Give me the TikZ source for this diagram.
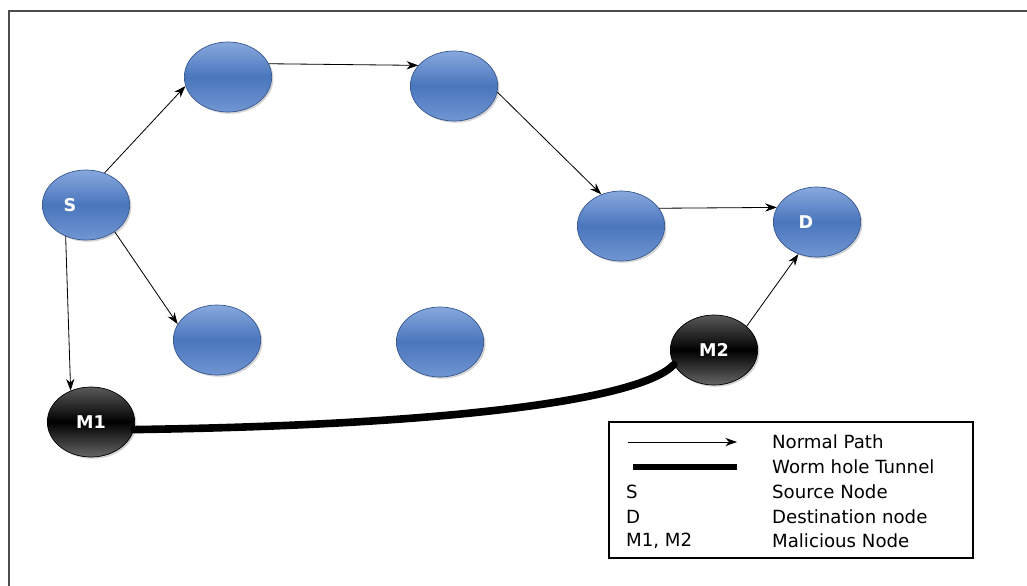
\documentclass[tikz,border=0pt]{standalone}
\usepackage{fontspec}
\setmainfont{DejaVu Sans}
\usetikzlibrary{arrows.meta,shadows,shapes.geometric}
\definecolor{hoptop}{RGB}{136,168,222}
\definecolor{hopmid}{RGB}{74,118,188}
\definecolor{hopbot}{RGB}{112,150,210}
\definecolor{hopedge}{RGB}{56,88,145}
\tikzset{
  hop/.style={ellipse,draw=hopedge,line width=0.6pt,minimum width=2.62cm,minimum height=2.1cm,
    inner sep=0pt,top color=hoptop,bottom color=hopbot,middle color=hopmid,
    drop shadow={shadow xshift=1.5pt,shadow yshift=-1.5pt,opacity=0.35},
    text=white,font=\bfseries\fontsize{15}{15}\selectfont},
  evil/.style={hop,draw=black,top color=black!65,bottom color=black!60,middle color=black},
  link/.style={-{Stealth[length=10pt,width=7pt]},line width=0.7pt},
  tunnel/.style={line width=6.5pt,line cap=round},
  keytext/.style={anchor=west,font=\fontsize{15.5}{15.5}\selectfont},
}
\begin{document}
\begin{tikzpicture}[x=0.03cm,y=-0.03cm]
  \useasboundingbox (0,0) rectangle (1027,586);
  \draw [black!70,line width=1.6pt] (1027,11) -- (9,11) -- (9,586);
  % the nodes of the network
  \node [hop] (s) at (86,205) {\hspace*{-13.7pt}S\hspace*{13.7pt}};
  \node [hop] (t1) at (228,77) {};
  \node [hop] (t2) at (454,86) {};
  \node [hop] (r) at (621,226) {};
  \node [hop] (d) at (817,222) {\hspace*{-9.4pt}D\hspace*{9.4pt}};
  \node [hop] (b1) at (217,340) {};
  \node [hop] (b2) at (440,342) {};
  \node [evil] (m1) at (91,422) {M1};
  \node [evil] (m2) at (714,350) {M2};
  % normal path
  \draw [link] (s.60) -- (t1.192);
  \draw [link] (t1.18) -- (t2.150);
  \draw [link] (t2.352) -- (r.122);
  \draw [link] (r.25) -- (d.160);
  \draw [link] (s.317) -- (b1.158);
  \draw [link] (s.237) -- (m1.123);
  \draw [link] (m2.36) -- (d.240);
  % worm hole
  \draw [tunnel] (m1.350) .. controls (450,425) and (640,400) .. (m2.200);
  % legend
  \draw [line width=1.2pt] (609,422) rectangle (973,558);
  \coordinate (p1) at (628,442); \coordinate (p2) at (737,442);
  \coordinate (q1) at (633,467); \coordinate (q2) at (737,467);
  \draw [link] (p1) -- (p2);
  \draw [line width=5.5pt] (q1) -- (q2);
  \node [keytext] (k1) at (768,442) {Normal Path};
  \node [keytext] (k2) at (768,467) {Worm hole Tunnel};
  \foreach \y/\k/\t [count=\i] in {492/S/Source Node,517/D/Destination node,541/{M1, M2}/Malicious Node}{
    \node [keytext] (s\i) at (622,\y) {\k};
    \node [keytext] (n\i) at (768,\y) {\t};
  }
\end{tikzpicture}
\end{document}
